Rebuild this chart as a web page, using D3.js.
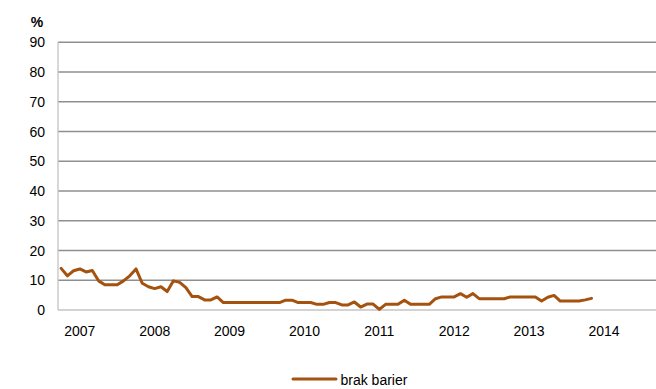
<!DOCTYPE html>
<html><head><meta charset="utf-8">
<script src="https://cdn.jsdelivr.net/npm/d3@7"></script>
<style>
html,body{margin:0;padding:0;background:#fff;}
svg{display:block;font-family:"Liberation Sans",Arial,sans-serif;}
</style></head>
<body><svg id="c" width="656" height="389"></svg>
<script>
// Monthly categories: Oct 2006 .. Sep 2014 (96 months); year labels sit on January
const startYear = 2006, startMonth = 9; // October 2006 (0-based month)
const monthCount = 96;
const yearLabels = ["2007","2008","2009","2010","2011","2012","2013","2014"];
const yTicks = [0,10,20,30,40,50,60,70,80,90];
const seriesName = "brak barier";
const values = [
  14, 11.5, 13.2, 13.8, 12.8, 13.3, 9.8, 8.5, 8.5, 8.5,
  9.8, 11.5, 13.8, 9, 7.8, 7.2, 7.8, 6.2, 9.8, 9.3,
  7.5, 4.5, 4.5, 3.4, 3.4, 4.4, 2.5, 2.5, 2.5, 2.5,
  2.5, 2.5, 2.5, 2.5, 2.5, 2.5, 3.3, 3.3, 2.5, 2.5,
  2.5, 1.9, 1.9, 2.5, 2.5, 1.7, 1.7, 2.7, 1.0, 2.0,
  2.0, 0.2, 1.9, 1.9, 1.9, 3.3, 1.9, 1.9, 1.9, 1.9,
  3.8, 4.4, 4.4, 4.4, 5.5, 4.3, 5.5, 3.8, 3.8, 3.8,
  3.8, 3.8, 4.4, 4.4, 4.4, 4.4, 4.4, 3.0, 4.3, 4.9,
  3.0, 3.0, 3.0, 3.0, 3.4, 3.9
];

(function () {
const svg = d3.select("#c");
const pl = 58, pr = 657, pt = 42.3, pb = 310;
const x = d3.scaleBand().domain(d3.range(monthCount)).range([pl, pr]).padding(0);
const xc = i => x(i) + x.bandwidth() / 2;
const y = d3.scaleLinear().domain([0, 90]).range([pb, pt]);
const color = "#A5520F";

// gridlines
svg.append("g").selectAll("line").data(yTicks.filter(d => d > 0)).join("line")
  .attr("x1", pl).attr("x2", 656)
  .attr("y1", d => y(d)).attr("y2", d => y(d))
  .attr("stroke", "#8f8f8f").attr("stroke-width", 1.6);

// bottom axis line
svg.append("line").attr("x1", pl).attr("x2", 656).attr("y1", y(0)).attr("y2", y(0))
  .attr("stroke", "#c4c4c4").attr("stroke-width", 1.6);
// y axis line
svg.append("line").attr("x1", pl).attr("x2", pl).attr("y1", y(90)).attr("y2", y(0))
  .attr("stroke", "#c4c4c4").attr("stroke-width", 1.3);

// y labels
svg.append("g").selectAll("text").data(yTicks).join("text")
  .attr("x", 45).attr("y", d => y(d)).attr("dy", "0.36em")
  .attr("text-anchor", "end").attr("font-size", 14).attr("fill", "#000")
  .text(d => d);

svg.append("text").attr("x", 37).attr("y", 26.5).attr("text-anchor", "middle")
  .attr("font-size", 14).attr("font-weight", "bold").text("%");

// x labels at January of each year
svg.append("g").selectAll("text").data(yearLabels).join("text")
  .attr("x", (d) => xc((+d - startYear) * 12 - startMonth))
  .attr("y", 335.5).attr("text-anchor", "middle").attr("font-size", 14)
  .text(d => d);

// line
const line = d3.line().x((d, i) => xc(i)).y(d => y(d));
svg.append("path").datum(values).attr("d", line)
  .attr("fill", "none").attr("stroke", color).attr("stroke-width", 3)
  .attr("stroke-linejoin", "round").attr("stroke-linecap", "round");

// legend
svg.append("line").attr("x1", 293).attr("x2", 336).attr("y1", 379).attr("y2", 379)
  .attr("stroke", color).attr("stroke-width", 3).attr("stroke-linecap", "round");
svg.append("text").attr("x", 340.5).attr("y", 384.5).attr("font-size", 14).text(seriesName);
})();
</script>
</body></html>
